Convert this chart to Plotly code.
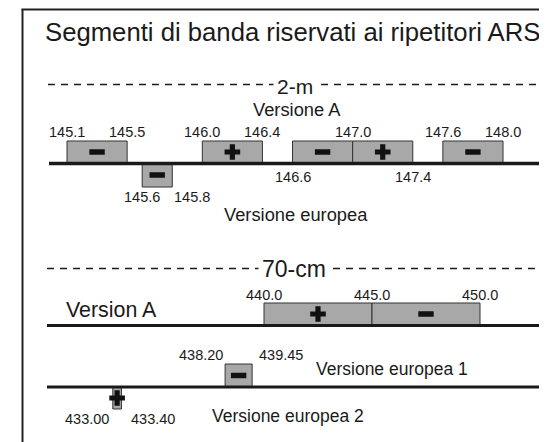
import plotly.graph_objects as go

# 2-m band segments (MHz)
seg2m_lo = [145.1, 145.6, 146.0, 146.6, 147.0, 147.6]
seg2m_hi = [145.5, 145.8, 146.4, 147.0, 147.4, 148.0]
seg2m_sign = ['-', '-', '+', '-', '+', '-']
seg2m_row = ['top', 'bottom', 'top', 'top', 'top', 'top']

# 2-m frequency labels
lab2m_top = [145.1, 145.5, 146.0, 146.4, 147.0, 147.6, 148.0]
lab2m_mid = [146.6, 147.4]
lab2m_low = [145.6, 145.8]

# 70-cm band segments (MHz)
seg70_lo = [440.0, 445.0, 438.20, 433.00]
seg70_hi = [445.0, 450.0, 439.45, 433.40]
seg70_sign = ['+', '-', '-', '+']
seg70_row = ['A', 'A', 'EU1', 'EU2']

# 70-cm frequency labels
lab70_a = [440.0, 445.0, 450.0]
lab70_eu1 = [438.20, 439.45]
lab70_eu2 = [433.00, 433.40]

# page body has an 8px margin, so the figure is shrunk by that much
OFF = 8
W, H = 547 - OFF, 442 - OFF
FONT = "Liberation Sans, Arial, sans-serif"
INK = '#1a1a1a'
BOX = '#a8a8a8'


def sx(p):
    # screen x pixel -> paper fraction
    return (p - OFF) / W


def sy(p):
    # screen y pixel -> y axis value
    return p - OFF


# vertical placement of each row: (top, bottom) in screen pixels
rows = {
    'top': (141, 163),
    'bottom': (163, 187),
    'A': (303, 325),
    'EU1': (364, 387),
    'EU2': (387, 409),
}

fig = go.Figure()


def add_segments(lo, hi, sign, row, xaxis):
    for s, e, sg, r in zip(lo, hi, sign, row):
        y0, y1 = sy(rows[r][0]), sy(rows[r][1])
        fig.add_trace(go.Bar(
            orientation='h', y=[(y0 + y1) / 2], x=[e - s], base=[s], width=[y1 - y0],
            marker=dict(color=BOX, line=dict(color='#333333', width=1)),
            xaxis=xaxis, yaxis='y', showlegend=False, hoverinfo='skip'))
        if sg == '+':
            marker = dict(symbol='cross', size=13, color='#111111', line=dict(width=0))
        else:
            marker = dict(symbol='line-ew', size=11, line=dict(color='#111111', width=5.5))
        fig.add_trace(go.Scatter(
            x=[(s + e) / 2], y=[(y0 + y1) / 2], mode='markers', marker=marker,
            xaxis=xaxis, yaxis='y', showlegend=False, hoverinfo='skip'))


add_segments(seg2m_lo, seg2m_hi, seg2m_sign, seg2m_row, 'x')
add_segments(seg70_lo, seg70_hi, seg70_sign, seg70_row, 'x2')


def label(text, x, y, size, xref='paper', anchor='center', xshift=0, bg=None):
    fig.add_annotation(
        text=text, x=sx(x) if xref == 'paper' else x, y=sy(y), xref=xref, yref='y',
        xanchor=anchor, yanchor='middle', showarrow=False, xshift=xshift,
        font=dict(family=FONT, size=size, color=INK),
        bgcolor=bg, borderpad=3)


# frequency labels
for f in lab2m_top:
    label('%.1f' % f, f, 132, 14.5, xref='x')
for f in lab2m_mid:
    label('%.1f' % f, f, 177, 14.5, xref='x')
label('%.1f' % lab2m_low[0], lab2m_low[0], 197, 14.5, xref='x')
label('%.1f' % lab2m_low[1], lab2m_low[1], 197, 14.5, xref='x', anchor='left', xshift=-2)

for f in lab70_a:
    label('%.1f' % f, f, 295, 14.5, xref='x2')
label('%.2f' % lab70_eu1[0], lab70_eu1[0], 355, 14.5, xref='x2', anchor='right', xshift=2)
label('%.2f' % lab70_eu1[1], lab70_eu1[1], 355, 14.5, xref='x2', anchor='left', xshift=3)
label('%.2f' % lab70_eu2[0], lab70_eu2[0], 419, 14.5, xref='x2', anchor='right')
label('%.2f' % lab70_eu2[1], lab70_eu2[1], 419, 14.5, xref='x2', anchor='left', xshift=6)

# titles and captions
label('Segmenti di banda riservati ai ripetitori ARS', 41, 32, 25.7, anchor='left')
label('2-m', 295, 86, 21, bg='white')
label('Versione A', 297, 109, 18.3)
label('Versione europea', 296, 214, 18.3)
label('70-cm', 294, 269, 23, bg='white')
label('Version A', 62, 310, 21.4, anchor='left')
label('Versione europea 1', 312, 369, 17.5, anchor='left')
label('Versione europea 2', 208, 416, 17.5, anchor='left')


def hline(x0, x1, y, width, dash=None):
    fig.add_shape(type='line', xref='paper', yref='y', x0=sx(x0), x1=sx(x1), y0=sy(y), y1=sy(y),
                  line=dict(color=INK, width=width, dash=dash), layer='below' if dash else 'above')


# base lines and separators
hline(49, 541, 163.5, 3.5)
hline(47, 547, 325.5, 3)
hline(47, 540, 387, 3)
hline(48, 547, 84.5, 1.3, dash='7px,6px')
hline(47, 547, 268.5, 1.3, dash='7px,6px')

# frame
fig.add_shape(type='line', xref='paper', yref='y', x0=sx(22.5), x1=sx(22.5), y0=sy(9), y1=H,
              line=dict(color='#222222', width=2))
fig.add_shape(type='line', xref='paper', yref='y', x0=sx(21.5), x1=1, y0=sy(9.5), y1=sy(9.5),
              line=dict(color='#222222', width=2))

# x ranges chosen so 145.1 -> px 67, 148.0 -> px 503 and 440 -> px 264, 450 -> px 481 on screen
fig.update_layout(
    width=W, height=H,
    margin=dict(l=0, r=0, t=0, b=0),
    paper_bgcolor='white', plot_bgcolor='white',
    barmode='overlay',
    xaxis=dict(range=[144.7075, 148.2927], visible=False, fixedrange=True),
    xaxis2=dict(range=[428.148, 453.102], visible=False, overlaying='x', fixedrange=True),
    yaxis=dict(range=[H, 0], visible=False, fixedrange=True),
    showlegend=False,
)

fig.write_html("out.html", config={'displayModeBar': False})
